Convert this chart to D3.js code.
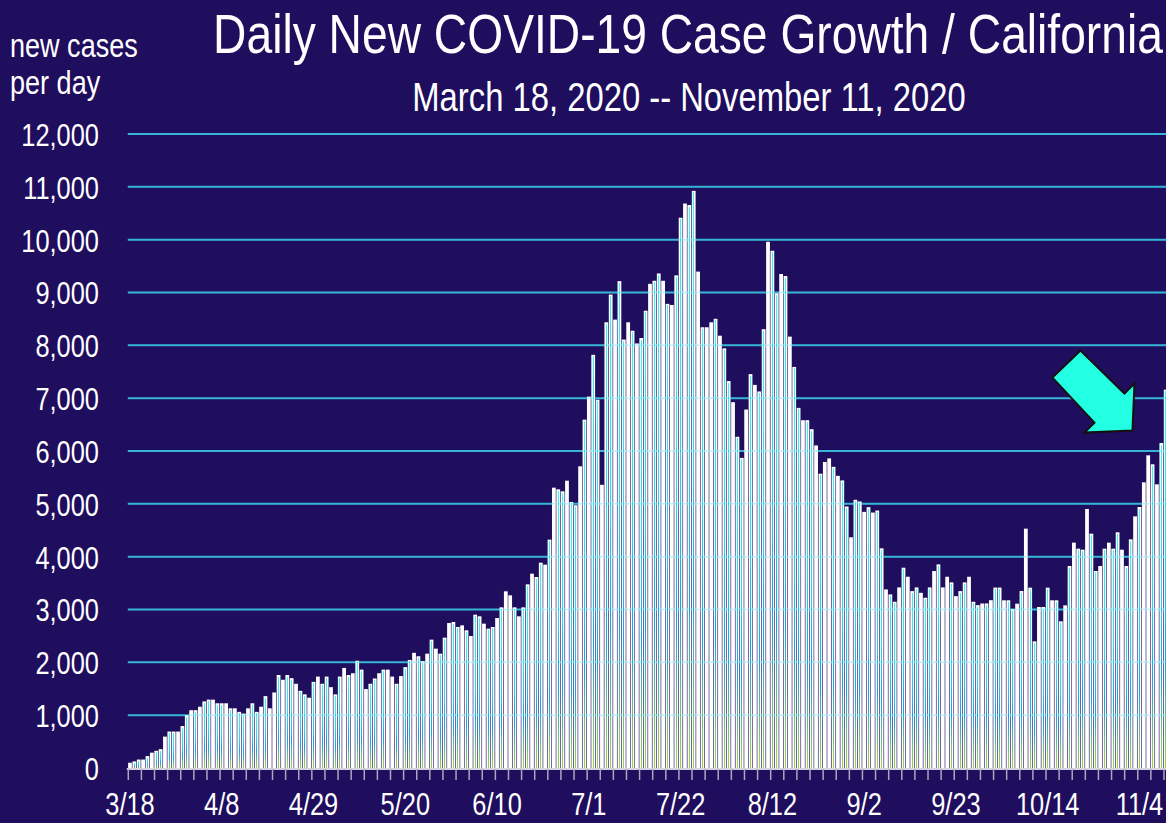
<!DOCTYPE html>
<html>
<head>
<meta charset="utf-8">
<script src="https://cdn.jsdelivr.net/npm/d3@7"></script>
<style>
  html, body { margin: 0; padding: 0; background: #1f0d5e; overflow: hidden; }
  svg text { font-family: "Liberation Sans", Arial, sans-serif; fill: #fff; }
</style>
</head>
<body>
<div id="chart"></div>
<script>
// daily new cases, California, 3/18/2020 .. 11/10/2020 (11/11 falls off the right edge)
var startDay = new Date(2020, 2, 18);
var endDay = new Date(2020, 10, 12);

var cases = [
  100, 125, 160, 160, 225, 290, 325, 356, 594, 690,
  690, 690, 794, 1000, 1094, 1094, 1160, 1260, 1294, 1294,
  1225, 1225, 1225, 1130, 1130, 1062, 1030, 1130, 1225, 1062,
  1160, 1360, 1130, 1430, 1760, 1670, 1760, 1700, 1594, 1460,
  1394, 1330, 1630, 1730, 1594, 1730, 1530, 1394, 1730, 1894,
  1760, 1794, 2030, 1862, 1494, 1594, 1694, 1794, 1862, 1862,
  1730, 1594, 1740, 1910, 2045, 2180, 2115, 2025, 2164, 2429,
  2259, 2164, 2467, 2744, 2763, 2669, 2700, 2606, 2498, 2902,
  2871, 2732, 2637, 2669, 2839, 3041, 3344, 3268, 3041, 2871,
  3041, 3476, 3678, 3615, 3886, 3849, 4322, 5306, 5274, 5237,
  5438, 5035, 4972, 5710, 6593, 7030, 7820, 6970, 5360, 8436,
  8960, 8487, 9215, 8109, 8436, 8276, 8036, 8138, 8655, 9164,
  9222, 9360, 9222, 8785, 8764, 9324, 10415, 10684, 10655, 10924,
  9396, 8342, 8342, 8436, 8502, 8182, 7942, 7324, 6924, 6269,
  5869, 6785, 7455, 7251, 7127, 8305, 9960, 9790, 8985, 9350,
  9311, 8165, 7591, 6816, 6583, 6583, 6413, 6105, 5570, 5793,
  5860, 5700, 5530, 5443, 4949, 4367, 5076, 5044, 4848, 4937,
  4835, 4873, 4158, 3380, 3285, 3146, 3418, 3791, 3620, 3348,
  3418, 3316, 3222, 3418, 3728, 3854, 3418, 3620, 3513, 3253,
  3348, 3513, 3620, 3146, 3082, 3114, 3114, 3176, 3415, 3415,
  3174, 3174, 3009, 3110, 3350, 4530, 3413, 2397, 3047, 3047,
  3413, 3174, 3174, 2776, 3079, 3823, 4265, 4151, 4132, 4902,
  4435, 3729, 3823, 4151, 4265, 4151, 4461, 4132, 3823, 4328,
  4763, 4940, 5407, 5918, 5748, 5369, 6151, 7161
];

var yTicks = d3.range(0, 12001, 1000);
var title = "Daily New COVID-19 Case Growth / California";
var subtitle = "March 18, 2020 -- November 11, 2020";
var yLabel = ["new cases", "per day"];

var svgWidth = 1166;
var svgHeight = 823;
var narrow = 0.82;   // fake Arial Narrow by squeezing Liberation Sans

var days = d3.timeDay.range(startDay, endDay);
var step = 4.37;
var left = 127.8;

var svg = d3.select("#chart")
  .append("svg")
  .attr("width", svgWidth)
  .attr("height", svgHeight);

svg.append("rect")
  .attr("width", svgWidth)
  .attr("height", svgHeight)
  .attr("fill", "#1f0d5e");

// gradient used inside each bar
var grad = svg.append("defs").append("linearGradient")
  .attr("id", "barGrad")
  .attr("x1", 0).attr("y1", 0).attr("x2", 0).attr("y2", 1);
[[0, "#35f6f6"], [0.45, "#22d8f8"], [0.7, "#0aa6ee"], [0.88, "#6cc47a"], [1, "#9ad640"]]
  .forEach(function(s) {
    grad.append("stop").attr("offset", s[0]).attr("stop-color", s[1]);
  });

var x = d3.scaleBand()
  .domain(days)
  .range([left, left + days.length * step]);

var y = d3.scaleLinear()
  .domain([0, 12000])
  .range([768, 134]);

// gridlines behind the bars
svg.append("g").selectAll("line")
  .data(yTicks.slice(1))
  .enter()
  .append("line")
  .attr("x1", left)
  .attr("x2", svgWidth)
  .attr("y1", d => y(d))
  .attr("y2", d => y(d))
  .attr("stroke", "#36b4d4")
  .attr("stroke-width", 2);

// bars
var barData = cases.map((v, i) => ({ day: days[i], value: v }));
var bars = svg.append("g");

bars.selectAll("rect.bar")
  .data(barData)
  .enter()
  .append("rect")
  .attr("class", "bar")
  .attr("x", d => x(d.day) + 0.3)
  .attr("width", x.bandwidth() - 0.6)
  .attr("y", d => y(d.value))
  .attr("height", d => y(0) - y(d.value))
  .attr("fill", "#ffffff");

bars.selectAll("rect.strip")
  .data(barData)
  .enter()
  .append("rect")
  .attr("class", "strip")
  .attr("x", d => x(d.day) + x.bandwidth() / 2 - 0.3)
  .attr("width", 0.6)
  .attr("y", d => y(d.value) + 1.5)
  .attr("height", d => Math.max(0, y(0) - y(d.value) - 1.5))
  .attr("fill", "url(#barGrad)")
  .attr("shape-rendering", "crispEdges");

// faint gridlines over the bars
svg.append("g").selectAll("line")
  .data(yTicks.slice(1))
  .enter()
  .append("line")
  .attr("x1", left)
  .attr("x2", svgWidth)
  .attr("y1", d => y(d))
  .attr("y2", d => y(d))
  .attr("stroke", "#36b4d4")
  .attr("stroke-width", 1.5)
  .attr("opacity", 0.25);

// baseline and small ticks every 3 days
svg.append("line")
  .attr("x1", left - 1)
  .attr("x2", svgWidth)
  .attr("y1", y(0) + 1)
  .attr("y2", y(0) + 1)
  .attr("stroke", "#d4d4e0")
  .attr("stroke-width", 2);

svg.append("g").selectAll("line")
  .data(days.filter((d, i) => i % 3 === 0))
  .enter()
  .append("line")
  .attr("x1", d => x(d) + 0.5)
  .attr("x2", d => x(d) + 0.5)
  .attr("y1", y(0) + 1)
  .attr("y2", y(0) + 12)
  .attr("stroke", "#a9a9bb")
  .attr("stroke-width", 1.5);

// x labels every 3 weeks
var xAxis = d3.axisBottom(x)
  .tickValues(days.filter((d, i) => i % 21 === 0))
  .tickSize(0)
  .tickPadding(0)
  .tickFormat(d3.timeFormat("%-m/%-d"));

svg.append("g")
  .attr("transform", `translate(0, ${y(0) + 47})`)
  .call(xAxis)
  .call(g => g.select(".domain").remove())
  .selectAll("text")
  .attr("dy", 0)
  .attr("fill", "#fff")
  .attr("transform", `scale(${narrow}, 1)`)
  .style("font-size", "31px");

// y labels
var yAxis = d3.axisLeft(y)
  .tickValues(yTicks)
  .tickSize(0)
  .tickPadding(0)
  .tickFormat(d3.format(","));

svg.append("g")
  .attr("transform", "translate(99, 0)")
  .call(yAxis)
  .call(g => g.select(".domain").remove())
  .selectAll("text")
  .attr("dy", "0.37em")
  .attr("fill", "#fff")
  .attr("transform", `scale(${narrow}, 1)`)
  .style("font-size", "31px");

// axis title
svg.append("g").selectAll("text")
  .data(yLabel)
  .enter()
  .append("text")
  .attr("transform", (d, i) => `translate(10, ${57 + i * 37}) scale(${narrow}, 1)`)
  .style("font-size", "33px")
  .text(d => d);

// titles
svg.append("text")
  .attr("transform", `translate(688, 53) scale(0.84, 1)`)
  .attr("text-anchor", "middle")
  .style("font-size", "55px")
  .text(title);

svg.append("text")
  .attr("transform", `translate(689, 111) scale(${narrow}, 1)`)
  .attr("text-anchor", "middle")
  .style("font-size", "40px")
  .text(subtitle);

// arrow pointing at the latest days
var arrow = [[0, 0], [44, 43], [54, 33], [52, 80], [4, 82], [14, 72], [-28, 27]];
var tip = [x(days[218]), y(7900)];
svg.append("polygon")
  .attr("points", arrow.map(p => [tip[0] + p[0], tip[1] + p[1]].join(",")).join(" "))
  .attr("fill", "#22ffe2")
  .attr("stroke", "#111")
  .attr("stroke-width", 2)
  .attr("stroke-linejoin", "miter");
</script>
</body>
</html>
